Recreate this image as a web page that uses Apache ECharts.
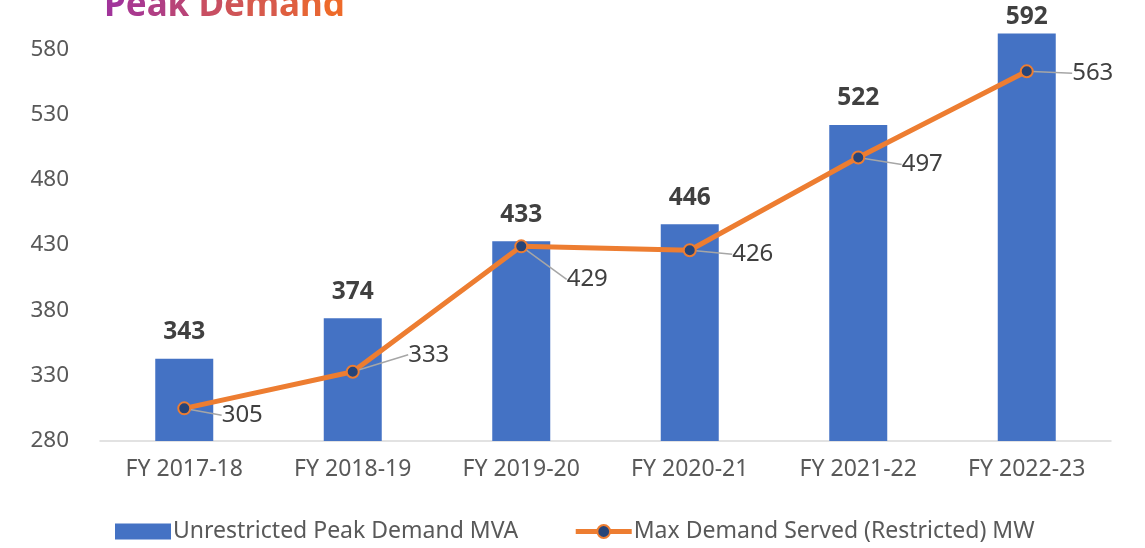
<!DOCTYPE html>
<html>
<head>
    <meta charset="utf-8">
    <script src="https://cdn.jsdelivr.net/npm/echarts@6/dist/echarts.min.js"></script>
</head>
<body style="margin:0">
    <div id="main" style="width:1145px; height:548px"></div>
<script type="text/javascript">
    var categories = ['FY 2017-18', 'FY 2018-19', 'FY 2019-20', 'FY 2020-21', 'FY 2021-22', 'FY 2022-23'];
    var peakMVA = [343, 374, 433, 446, 522, 592];
    var servedMW = [305, 333, 429, 426, 497, 563];

    // where each line label sits relative to its point (px)
    var labelShift = [[58, 7], [76, -17], [66, 33], [63, 4], [64, 7], [66, 2]];

    var myChart = echarts.init(document.getElementById('main'));
    var font = 'Noto Sans';

    // title drawn letter by letter, purple -> orange
    function titleRich(text) {
        var c0 = [161, 52, 154], c1 = [238, 106, 42];
        var rich = {}, parts = [];
        for (var i = 0; i < text.length; i++) {
            var t = i / (text.length - 1);
            var col = 'rgb(' + c0.map(function (v, k) { return Math.round(v + (c1[k] - v) * t); }).join(',') + ')';
            rich['c' + i] = { fill: col, fontSize: 35, fontWeight: 'bold', fontFamily: font };
            parts.push('{c' + i + '|' + text[i] + '}');
        }
        return { text: parts.join(''), rich: rich };
    }
    var tr = titleRich('Peak Demand');

    var option = {
        animation: false,
        textStyle: { fontFamily: font },
        graphic: [{
            type: 'text',
            left: 104,
            top: -11,
            style: {
                text: tr.text,
                rich: tr.rich,
                fontSize: 35,
                fontWeight: 'bold',
                fontFamily: font
            }
        }],
        grid: { left: 100, right: 34, top: 23, bottom: 107 },
        legend: {
            bottom: 0,
            left: 110,
            itemGap: 55,
            itemWidth: 56,
            itemHeight: 16,
            textStyle: { color: '#595959', fontSize: 23, fontFamily: font, padding: [0, 0, 0, -3] },
            data: [
                { name: 'Unrestricted Peak Demand MVA', icon: 'rect' },
                { name: 'Max Demand Served (Restricted) MW', lineStyle: { width: 5 } }
            ]
        },
        xAxis: {
            type: 'category',
            data: categories,
            axisLine: { lineStyle: { color: '#D9D9D9', width: 1.5 } },
            axisTick: { show: false },
            axisLabel: { color: '#595959', fontSize: 23, margin: 17 }
        },
        yAxis: {
            type: 'value',
            min: 280,
            max: 600,
            interval: 50,
            splitLine: { show: false },
            axisLine: { show: false },
            axisLabel: {
                color: '#595959', fontSize: 22.5, margin: 31,
                formatter: function (v) { return v > 580 ? '' : v; }
            }
        },
        series: [{
            name: 'Unrestricted Peak Demand MVA',
            type: 'bar',
            data: peakMVA,
            barWidth: 58,
            itemStyle: { color: '#4472C4' },
            label: {
                show: true,
                position: 'top',
                distance: 14,
                color: '#404040',
                fontWeight: 'bold',
                fontSize: 24.5
            },
            labelLayout: function (p) {
                return p.labelRect.y < 5 ? { dy: 5 - p.labelRect.y } : {};
            }
        }, {
            name: 'Max Demand Served (Restricted) MW',
            type: 'line',
            data: servedMW,
            symbol: 'circle',
            symbolSize: 12,
            lineStyle: { color: '#ED7D31', width: 5 },
            itemStyle: { color: '#264478', borderColor: '#ED7D31', borderWidth: 2 },
            label: {
                show: true,
                position: 'inside',
                color: '#404040',
                fontSize: 24
            },
            labelLine: {
                show: true,
                lineStyle: { color: '#A6A6A6', width: 1.5 }
            },
            labelLayout: function (params) {
                var s = labelShift[params.dataIndex];
                return { dx: s[0], dy: s[1] };
            },
            z: 3
        }]
    };

    myChart.setOption(option);
</script>
</body>
</html>
